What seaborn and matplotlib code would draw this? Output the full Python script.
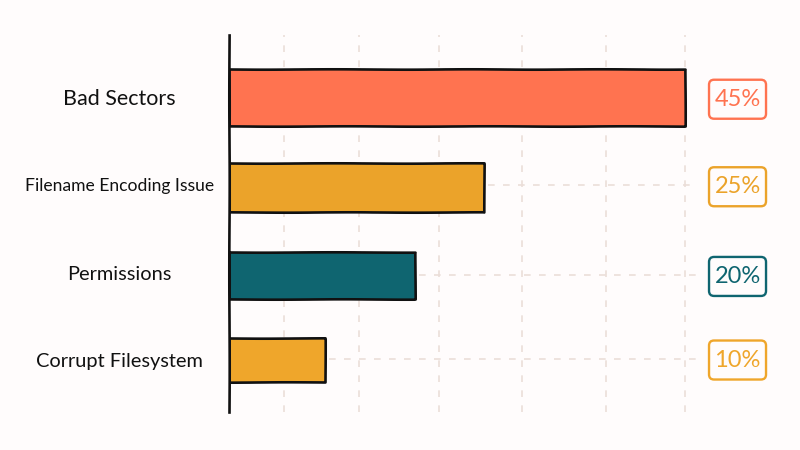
import matplotlib
matplotlib.use("Agg")
import matplotlib.pyplot as plt
from matplotlib.patches import FancyBboxPatch
import seaborn as sns

# values
categories = ['Bad Sectors', 'Filename Encoding Issue', 'Permissions', 'Corrupt Filesystem']
bar_lengths = [45, 25.2, 18.4, 9.5]  # as drawn, the sketch is not to scale
value_labels = ['45%', '25%', '20%', '10%']
gridlines = [5.4, 12.8, 20.7, 28.9, 37.2, 45]

colors = ['#FF7350', '#EBA32A', '#0F6570', '#EFA62B']
bg = '#FFFCFC'
grid_color = '#EBDED9'
ink = '#111111'
px_per_unit = 10.13
px_per_row = 87.5

sns.set_theme(style='white')
plt.rcParams['font.family'] = ['Lato', 'DejaVu Sans']

fig = plt.figure(figsize=(8, 4.5), dpi=100, facecolor=bg)
ax = fig.add_axes([229 / 800, 1 - 412 / 450, 571 / 800, 377 / 450], facecolor=bg)

sns.barplot(x=bar_lengths, y=categories, hue=categories, palette=colors, legend=False,
            saturation=1, edgecolor=ink, linewidth=1.9, ax=ax)

# bars are not all the same thickness in the sketch, nor evenly spaced
thickness = [0.65, 0.56, 0.54, 0.50]
nudge = [0, 0.03, 0.035, 0]
for patch, t, n in zip(ax.patches, thickness, nudge):
    centre = patch.get_y() + patch.get_height() / 2 + n
    patch.set_height(t)
    patch.set_y(centre - t / 2)
    patch.set_sketch_params(0.2, 150, 2)
    patch.set_joinstyle('round')

ax.set_xlim(0, 571 / px_per_unit)
ax.set_ylim(3.594, -0.714)

# dashed grid behind the bars
ax.set_axisbelow(True)
ax.set_xticks(gridlines)
ax.set_xticklabels([])
ax.grid(axis='x', color=grid_color, linestyle=(0, (4, 5)), linewidth=1.2)
ax.grid(axis='y', visible=False)
ax.tick_params(axis='both', length=0)

# leader lines from the shorter bars to their badges
for i, off in zip(range(1, len(categories)), [0, 0.03, -0.01]):
    ax.hlines(i + off, bar_lengths[i] + 0.4, 46.3, color=grid_color, linestyle=(0, (4, 5)),
              linewidth=1.2, zorder=0.5)

# value badges
badge_x = 50.2
badge_w = 57 / px_per_unit
badge_h = 39 / px_per_row
badge_off = [0.02, 0.02, 0.045, 0]
for i, label in enumerate(value_labels):
    ax.add_patch(FancyBboxPatch((badge_x - badge_w / 2, i + badge_off[i] - badge_h / 2), badge_w, badge_h,
                                boxstyle='round,pad=0,rounding_size=0.5',
                                mutation_aspect=px_per_unit / px_per_row,
                                facecolor=bg, edgecolor=colors[i], linewidth=1.7))
    ax.text(badge_x, i + badge_off[i], label, color=colors[i], fontsize=17, ha='center', va='center')

# sizes per label so the widths match the handwriting
label_sizes = [15.5, 12.6, 14.4, 14.4]
ax.set_yticks(range(len(categories)))
ax.set_yticklabels(categories, color=ink, ha='center')
for tick, size in zip(ax.get_yticklabels(), label_sizes):
    tick.set_fontsize(size)
ax.tick_params(axis='y', pad=79)
ax.set_xlabel('')
ax.set_ylabel('')

sns.despine(ax=ax, top=True, right=True, bottom=True)
ax.spines['left'].set_color(ink)
ax.spines['left'].set_linewidth(1.9)
ax.spines['left'].set_sketch_params(0.2, 200, 2)

fig.savefig('out.png', dpi=100, facecolor=bg)
